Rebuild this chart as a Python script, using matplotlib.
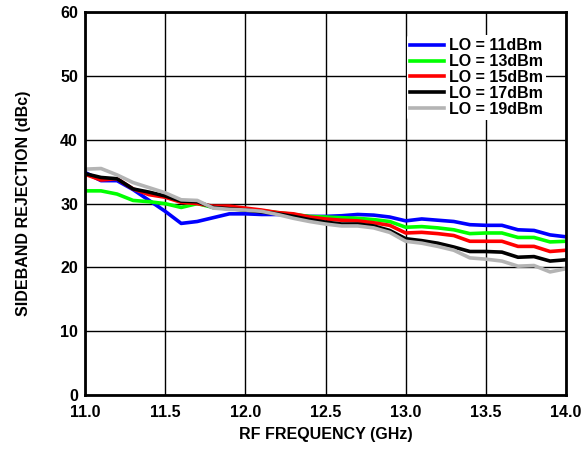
import matplotlib
matplotlib.use("Agg")
from matplotlib import pyplot as plt
import matplotlib.ticker as mtick

plt.rcParams['font.family'] = ['Liberation Sans', 'DejaVu Sans']
plt.rcParams['font.weight'] = 'bold'

# частота, ГГц
freq = [11.0, 11.1, 11.2, 11.3, 11.4, 11.5, 11.6, 11.7, 11.8, 11.9,
        12.0, 12.1, 12.2, 12.3, 12.4, 12.5, 12.6, 12.7, 12.8, 12.9,
        13.0, 13.1, 13.2, 13.3, 13.4, 13.5, 13.6, 13.7, 13.8, 13.9, 14.0]

lo_11 = [34.9, 33.6, 33.6, 32.2, 30.5, 28.8, 26.9, 27.2, 27.8, 28.4,
         28.4, 28.3, 28.3, 28.2, 28.0, 28.0, 28.1, 28.3, 28.2, 27.9,
         27.3, 27.6, 27.4, 27.2, 26.7, 26.6, 26.6, 25.9, 25.8, 25.1, 24.8]
lo_13 = [32.0, 32.0, 31.5, 30.5, 30.3, 30.0, 29.4, 30.0, 29.4, 29.3,
         29.0, 28.9, 28.6, 28.3, 28.0, 27.9, 27.8, 27.7, 27.5, 27.2,
         26.3, 26.4, 26.2, 25.9, 25.3, 25.4, 25.4, 24.7, 24.7, 24.0, 24.1]
lo_15 = [34.6, 33.7, 33.9, 32.3, 31.4, 31.0, 30.2, 30.0, 29.6, 29.6,
         29.3, 29.0, 28.6, 28.4, 27.9, 27.6, 27.4, 27.3, 27.0, 26.6,
         25.4, 25.5, 25.3, 25.0, 24.1, 24.1, 24.1, 23.3, 23.3, 22.5, 22.7]
lo_17 = [34.7, 34.1, 33.9, 32.3, 31.8, 31.2, 30.4, 30.3, 29.4, 29.2,
         29.0, 28.7, 28.4, 28.0, 27.5, 27.1, 26.8, 26.8, 26.5, 25.8,
         24.5, 24.2, 23.8, 23.2, 22.5, 22.5, 22.4, 21.6, 21.7, 21.0, 21.2]
lo_19 = [35.4, 35.5, 34.5, 33.3, 32.5, 31.7, 30.6, 30.5, 29.3, 29.1,
         29.0, 28.8, 28.3, 27.7, 27.2, 26.8, 26.5, 26.5, 26.2, 25.5,
         24.1, 23.8, 23.3, 22.7, 21.5, 21.3, 21.0, 20.2, 20.3, 19.3, 19.8]

labels = ['LO = 11dBm', 'LO = 13dBm', 'LO = 15dBm', 'LO = 17dBm', 'LO = 19dBm']
colors = ['#0000ff', '#00ff00', '#ff0000', '#000000', '#b4b4b4']

fig = plt.figure(figsize=(5.86, 4.5), dpi=100)
fig.subplots_adjust(left=0.145, right=0.966, top=0.973, bottom=0.122)
ax = fig.add_subplot(1, 1, 1)

ax.grid(True, color='black', linewidth=1.0)
ax.set_axisbelow(True)

for y, lab, c in zip([lo_11, lo_13, lo_15, lo_17, lo_19], labels, colors):
    ax.plot(freq, y, color=c, linewidth=2.6, label=lab)

ax.set_xlim(11, 14)
ax.set_ylim(0, 60)
ax.xaxis.set_major_locator(mtick.MultipleLocator(0.5))
ax.yaxis.set_major_locator(mtick.MultipleLocator(10))
ax.xaxis.set_major_formatter(mtick.FormatStrFormatter('%.1f'))
ax.tick_params(labelsize=11.5, length=0)
ax.tick_params(axis='x', pad=7)
ax.tick_params(axis='y', pad=5)
for s in ax.spines.values():
    s.set_linewidth(2)

ax.set_xlabel('RF FREQUENCY (GHz)', size=11.5, fontweight='bold', labelpad=5)
ax.set_ylabel('SIDEBAND REJECTION (dBc)', size=11.5, fontweight='bold', labelpad=21)

leg = ax.legend(loc='upper right', bbox_to_anchor=(0.958, 0.94), frameon=True,
                prop={'size': 11.5, 'weight': 'bold'}, handlelength=2.1,
                handletextpad=0.3, labelspacing=0.05, borderpad=0.2,
                borderaxespad=0)
leg.get_frame().set_edgecolor('none')
leg.get_frame().set_facecolor('white')
leg.get_frame().set_alpha(1)

fig.savefig('out.png', dpi=100)
